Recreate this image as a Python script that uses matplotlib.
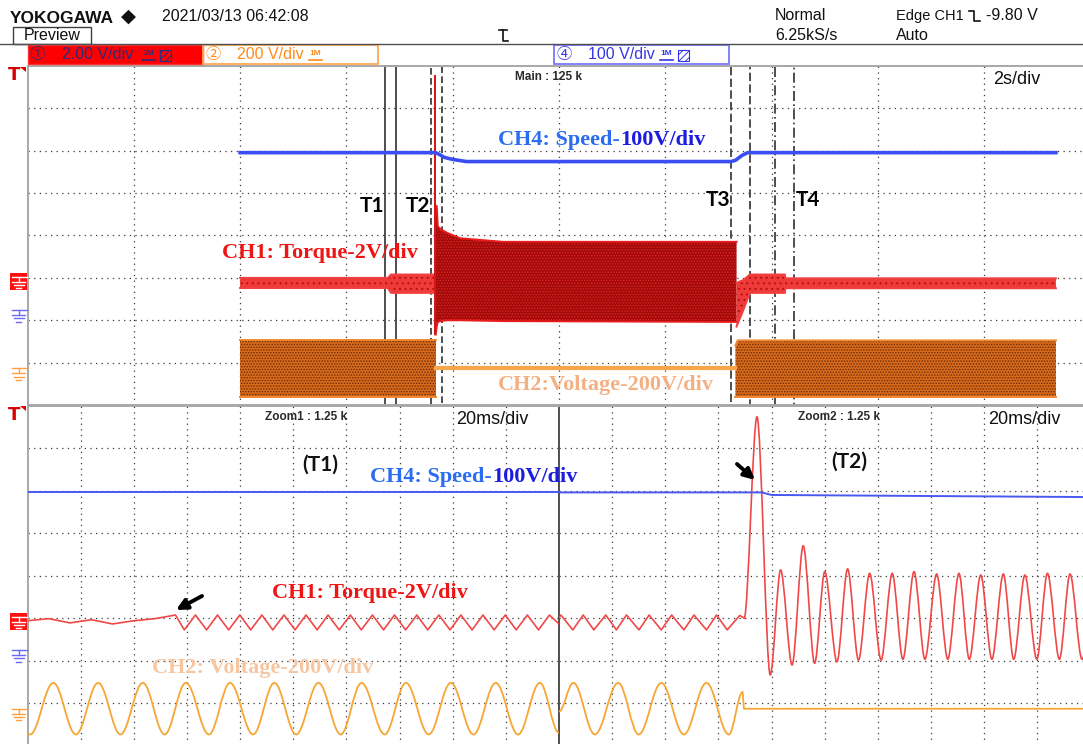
import numpy as np
import matplotlib
matplotlib.use("Agg")
import matplotlib.pyplot as plt
import matplotlib.transforms as mtransforms
from matplotlib.patches import Rectangle, PathPatch, Polygon
from matplotlib.path import Path

# ---------------- main window, 2 s/div (time in s) ----------------
speed_t = [4.0, 7.68, 7.76, 7.84, 8.0, 8.26, 13.24, 13.32, 13.45, 13.55, 19.35]
speed_v = [383, 383, 378, 372, 367, 362, 362, 365, 377, 383, 383]

torque_idle_t = [4.0, 6.78, 6.84, 7.66]
torque_idle_hi = [0.18, 0.18, 0.34, 0.34]
torque_idle_lo = [-0.30, -0.30, -0.53, -0.53]

torque_spike_t = 7.665
torque_spike_v = [-2.52, 9.76]

torque_run_t = [7.68, 7.70, 7.72, 7.79, 7.90, 8.14, 8.95, 13.34]
torque_run_hi = [3.57, 3.57, 2.6, 2.45, 2.3, 2.05, 1.88, 1.88]
torque_run_lo = [-2.5, -2.1, -1.9, -1.85, -1.82, -1.82, -1.86, -1.9]

torque_stop_t = [13.34, 13.47, 13.59, 14.25, 14.26, 19.35]
torque_stop_hi = [-0.06, 0.08, 0.34, 0.34, 0.16, 0.16]
torque_stop_lo = [-2.12, -1.33, -0.53, -0.53, -0.31, -0.31]

volt_on1_t = [4.0, 7.68]
volt_on2_t = [13.32, 13.36, 19.35]
volt_on2_hi = [130, 155, 155]
volt_on_hi, volt_on_lo = 155, -110
volt_off_t = [7.68, 13.32]
volt_off_v = [24, 24]

# zoom windows marked on the main trace: (start s, width s)
windows = {"T1": (6.73, 0.20), "T2": (7.59, 0.20), "T3": (13.24, 0.35), "T4": (14.07, 0.36)}

# ---------------- Zoom1, 20 ms/div (time in ms) ----------------
z1_speed_t = [0, 200]
z1_speed_v = [383, 383]

z1_torque_t = [0, 8, 16, 24, 32, 40, 48, 55.7, 59.0, 63.2, 67.4, 71.5, 75.7, 79.9,
               84.0, 88.2, 92.3, 96.5, 100.7, 104.8, 109.0, 113.1, 117.3, 121.5,
               125.6, 129.8, 134.0, 138.1, 142.3, 146.5, 150.6, 154.8, 159.0, 163.1,
               167.3, 171.4, 175.6, 179.8, 183.9, 188.1, 192.3, 196.4, 200]
z1_torque_v = [0.05, 0.15, -0.05, 0.1, -0.1, 0.05, 0.15, 0.32] + [-0.38, 0.32] * 17 + [-0.1]

z1_volt_t = [0, 1.0, 9.7, 18.2, 26.6, 35.0, 43.4, 51.6, 59.6, 68.3, 76.2, 84.9, 92.9,
             101.1, 109.5, 117.9, 125.7, 134.4, 142.4, 151.0, 159.3, 167.8, 176.2,
             184.6, 192.8, 200]
z1_volt_v = [-95, -98] + [145, -98] * 11 + [145, -90]

# ---------------- Zoom2, 20 ms/div (time in ms) ----------------
z2_speed_t = [0, 76.2, 80, 200]
z2_speed_v = [383, 383, 377, 372]

z2_ripple_t = [0, 0.7, 5.2, 9.1, 13.1, 17.6, 21.6, 25.4, 30.1, 33.9, 38.5, 42.4,
               47.0, 50.8, 55.5, 59.3, 63.3, 68.0, 69.7]
z2_ripple_v = [0.2, 0.32] + [-0.38, 0.32] * 7 + [-0.38, 0.3, 0.17]

z2_osc_t = [69.7, 74.5, 79.5, 83.4, 87.7, 91.9, 96.2, 100.0, 104.6, 108.6, 112.7,
            116.9, 121.2, 125.4, 129.4, 133.6, 137.7, 142.1, 146.3, 150.5, 154.4,
            158.7, 162.9, 167.2, 171.1, 175.3, 179.8, 183.8, 188.3, 192.3, 196.8, 200]
z2_osc_v = [0.17, 9.65, -2.50, 2.44, -2.03, 3.58, -1.95, 2.36, -1.88, 2.49, -1.80,
            2.28, -1.80, 2.28, -1.76, 2.36, -1.76, 2.25, -1.76, 2.28, -1.76, 2.20,
            -1.76, 2.25, -1.76, 2.20, -1.76, 2.28, -1.76, 2.25, -1.76, -0.3]

z2_volt_t = [0, 5.4, 13.5, 22.3, 30.0, 38.5, 47.0, 55.5, 63.9, 69.1]
z2_volt_v = [10, 145, -98, 145, -98, 145, -98, 145, -98, 101]
z2_volt_off_t = [69.1, 69.6, 200]
z2_volt_off_v = [101, 23, 23]

# channel settings: (ground position in div, volts per div)
CH1 = (-1.09, 2)
CH2 = (-3.25, 200)
CH4 = (-1.875, 100)

RED, DARKRED, ORANGE, BLUE = "#f03a3a", "#a00a0a", "#d86a1c", "#3b4ef2"
SANS = ["Liberation Sans", "DejaVu Sans", "Noto Sans CJK JP"]
SERIF = ["Liberation Serif", "DejaVu Serif"]
SANSB = ["Lato", "DejaVu Sans"]

W, H = 1083, 744
X0 = 27.5
TOP = (66, 405)
BOT = (405.5, 745.5)
SPLIT = 559

fig = plt.figure(figsize=(W / 100, H / 100), dpi=100)
plt.rcParams["hatch.linewidth"] = 0.7


def rect(x0, x1, y0, y1):
    return [x0 / W, 1 - y1 / H, (x1 - x0) / W, (y1 - y0) / H]


def panel(r, xmax, step):
    ax = fig.add_axes(r)
    ax.set_xlim(0, xmax)
    ax.set_ylim(-4, 4)
    ax.set_xticks(np.arange(step, xmax, step))
    ax.set_yticks(range(-3, 4))
    ax.tick_params(length=0, labelbottom=False, labelleft=False)
    ax.grid(True, color="#3a3a3a", lw=0.9, ls=(0, (1, 3.5)))
    for s in ax.spines.values():
        s.set_color("#a8a8a8")
        s.set_linewidth(1.4)
    return ax


def chan(base, ch):
    g, vdiv = ch
    a = base.twinx()
    a.set_ylim((-4 - g) * vdiv, (4 - g) * vdiv)
    a.set_axis_off()
    return a


def smooth(ax, t, v, color, lw, k=0.36):
    verts = [(t[0], v[0])]
    codes = [Path.MOVETO]
    for i in range(1, len(t)):
        dt = t[i] - t[i - 1]
        verts += [(t[i - 1] + k * dt, v[i - 1]), (t[i] - k * dt, v[i]), (t[i], v[i])]
        codes += [Path.CURVE4] * 3
    ax.add_patch(PathPatch(Path(verts, codes), fill=False, ec=color, lw=lw))


def band(ax, t, hi, lo, face, speck, rim, hatch="......"):
    # dense trace drawn as its envelope, speckled, with a brighter rim
    ax.fill_between(t, lo, hi, facecolor=face, edgecolor=speck, hatch=hatch, linewidth=0)
    ax.plot(t, hi, color=rim, lw=1.4)
    ax.plot(t, lo, color=rim, lw=1.4)


# ---- main window ----
top = panel(rect(X0, X0 + 1063, *TOP), 20, 2)
top.spines["right"].set_visible(False)
a2 = chan(top, CH2)
band(a2, volt_on1_t, [volt_on_hi] * 2, [volt_on_lo] * 2, ORANGE, "#6a2c05", "#f08830")
band(a2, volt_on2_t, volt_on2_hi, [volt_on_lo] * 3, ORANGE, "#6a2c05", "#f08830")
a2.plot(volt_off_t, volt_off_v, color="#f7a64a", lw=3)
a1 = chan(top, CH1)
band(a1, torque_idle_t, torque_idle_hi, torque_idle_lo, RED, "#b01010", "#f04040", hatch="...")
band(a1, torque_run_t, torque_run_hi, torque_run_lo, DARKRED, "#e02424", "#e81c1c")
band(a1, torque_stop_t, torque_stop_hi, torque_stop_lo, RED, "#b01010", "#f04040", hatch="...")
a1.vlines(torque_spike_t, *torque_spike_v, color="#d81010", lw=1.4)
a4 = chan(top, CH4)
a4.plot(speed_t, speed_v, color=BLUE, lw=2.6)

styles = {"T1": "-", "T2": (0, (4, 2)), "T3": (0, (5, 2)), "T4": (0, (6, 2, 1, 2))}
trans = mtransforms.blended_transform_factory(top.transData, top.transAxes)
for name, (t0, w) in windows.items():
    top.add_patch(Rectangle((t0, -0.02), w, 1.02, transform=trans, fill=False,
                            ec="#303030", lw=1.2, ls=styles[name], clip_on=False))
    if name == "T4":
        top.text(t0 + w + 0.03, 0.84, name, ha="left", va="center", fontsize=15,
                 fontweight="bold", family=SANSB)
    else:
        y = 0.84 if name == "T3" else 0.70
        top.text(t0 - 0.02, y, name, ha="right", va="center", fontsize=15,
                 fontweight="bold", family=SANSB)

# ---- zoom windows ----
z1 = panel(rect(X0, SPLIT, *BOT), 200, 20)
z1.spines["right"].set_color("#505050")
z2 = panel(rect(SPLIT, SPLIT + SPLIT - X0, *BOT), 200, 20)
z2.spines["left"].set_color("#505050")
z2.spines["right"].set_visible(False)

b2 = chan(z1, CH2)
smooth(b2, z1_volt_t, z1_volt_v, "#f6a733", 1.3)
b1 = chan(z1, CH1)
b1.plot(z1_torque_t, z1_torque_v, color="#f04848", lw=1.2)
b4 = chan(z1, CH4)
b4.plot(z1_speed_t, z1_speed_v, color="#4a58f0", lw=1.4)

c2 = chan(z2, CH2)
smooth(c2, z2_volt_t, z2_volt_v, "#f6a733", 1.3)
c2.plot(z2_volt_off_t, z2_volt_off_v, color="#f6a733", lw=1.3)
c1 = chan(z2, CH1)
c1.plot(z2_ripple_t, z2_ripple_v, color="#f04848", lw=1.2)
smooth(c1, z2_osc_t, z2_osc_v, "#f04848", 1.2, k=0.32)
c4 = chan(z2, CH4)
c4.plot(z2_speed_t, z2_speed_v, color="#4a58f0", lw=1.4)

# ---- screen furniture, pixel coordinates ----
ov = fig.add_axes([0, 0, 1, 1])
ov.set_xlim(0, W)
ov.set_ylim(H, 0)
ov.set_axis_off()


def txt(x, y, s, size, color="#111111", family=SANS, **kw):
    kw.setdefault("ha", "left")
    kw.setdefault("va", "center")
    return ov.text(x, y, s, fontsize=size, color=color, family=family, **kw)


def probe_icon(x, y, color, hatched):
    txt(x, y - 1, "1M", 6, color, weight="bold")
    ov.plot([x, x + 13], [y + 5, y + 5], color=color, lw=1.2)
    if hatched:
        ov.add_patch(Rectangle((x + 18, y - 5), 11, 11, fill=False, ec=color,
                               hatch="/////", lw=0.8))


txt(10, 18.5, "YOKOGAWA", 12.5, weight="bold")
txt(128, 16, "\u25c6", 14, family=["DejaVu Sans"], ha="center")
txt(162, 16.5, "2021/03/13 06:42:08", 11.5)
ov.add_patch(Rectangle((13, 27), 78, 16.5, fill=False, ec="#404040", lw=1))
txt(24, 35.5, "Preview", 11.5)
ov.plot([0, W], [43.5, 43.5], color="#505050", lw=1)
ov.plot([499, 507], [30, 30], color="#111111", lw=1.2)
ov.plot([503, 503, 508], [30, 41, 41], color="#111111", lw=1.2)
txt(775, 16, "Normal", 11.5)
txt(775, 35.5, "6.25kS/s", 11.5)
txt(896, 16, "Edge CH1", 10.5)
ov.plot([969, 974, 974, 980], [11, 11, 21, 21], color="#111111", lw=1.2)
txt(986, 16, "-9.80 V", 11.5)
txt(896, 35.5, "Auto", 11.5)

ov.add_patch(Rectangle((27.5, 45), 175.5, 19, fc="#ff0000", ec="#ff3030", lw=1))
txt(29, 54.5, "\u2460", 11, "#2e2a7e", family=["Noto Sans CJK JP"])
txt(62, 54.5, "2.00 V/div", 11.5, "#2e2a7e")
probe_icon(142, 54.5, "#2e2a7e", True)
ov.add_patch(Rectangle((203, 45), 175, 19, fill=False, ec="#ffaa55", lw=1.3))
txt(205, 54.5, "\u2461", 11, "#ff8c1a", family=["Noto Sans CJK JP"])
txt(237, 54.5, "200 V/div", 11.5, "#ff8c1a")
probe_icon(309, 54.5, "#ff8c1a", False)
ov.add_patch(Rectangle((554, 45), 175, 19, fill=False, ec="#7878ff", lw=1.3))
txt(556, 54.5, "\u2463", 11, "#3535e8", family=["Noto Sans CJK JP"])
txt(588, 54.5, "100 V/div", 11.5, "#3535e8")
probe_icon(660, 54.5, "#3535e8", True)

txt(515, 77, "Main : 125 k", 8.5, "#2a2a2a", weight="bold")
txt(993, 80, "2s/div", 13)
txt(265, 417, "Zoom1 : 1.25 k", 8.5, "#2a2a2a", weight="bold")
txt(456, 420, "20ms/div", 13)
txt(798, 417, "Zoom2 : 1.25 k", 8.5, "#2a2a2a", weight="bold")
txt(988, 420, "20ms/div", 13)

txt(320.5, 465, "(T1)", 15, family=SANSB, weight="bold", ha="center")
txt(849, 462, "(T2)", 15, family=SANSB, weight="bold", ha="center")

renderer = fig.canvas.get_renderer()


def label(x, y, parts):
    for s, c in parts:
        t = txt(x, y, s, 16, c, family=SERIF, weight="bold")
        x += t.get_window_extent(renderer=renderer).width


label(498, 140, [("CH4: Speed-", "#2a6cf2"), ("100V/div", "#1c1ce0")])
label(222, 253, [("CH1: Torque-2V/div", "#ee1515")])
label(498, 385, [("CH2:Voltage-200V/div", "#f4b083")])
label(370, 477, [("CH4: Speed-", "#2a6cf2"), ("100V/div", "#1c1ce0")])
label(272, 593, [("CH1: Torque-2V/div", "#ee1515")])
label(151.5, 668, [("CH2: Voltage-200V/div", "#f7c6a0")])

arrow = dict(arrowstyle="-|>", color="black", lw=2.8, mutation_scale=16, shrinkA=0, shrinkB=0)
ov.annotate("", xy=(176, 610), xytext=(202, 596), arrowprops=arrow)
ov.annotate("", xy=(755, 480), xytext=(737, 464), arrowprops=arrow)


def ground_mark(yc, color, filled=False):
    c = color
    if filled:
        ov.add_patch(Rectangle((10, yc - 9), 17, 17.5, fc=color, ec="none"))
        c = "white"
    ov.plot([12, 26.5], [yc - 5, yc - 5], color=c, lw=1)
    ov.plot([18.5, 18.5], [yc - 5, yc], color=c, lw=1)
    for w, dy in [(6.5, 0), (5, 3.3), (2.5, 6.6)]:
        ov.plot([18.5 - w, 18.5 + w], [yc + dy, yc + dy], color=c, lw=1)


for yc0, pitch in [(235.5, 42.4), (575.5, 42.5)]:
    ground_mark(yc0 - CH1[0] * pitch, "#ff1010", filled=True)
    ground_mark(yc0 - CH4[0] * pitch, "#6a6af5")
    ground_mark(yc0 - CH2[0] * pitch, "#ffa040")

for ty in (66.5, 406):
    txt(14, ty + 9, "T", 13, "#d80000", family=["DejaVu Sans"], weight="bold", ha="center")
    ov.add_patch(Polygon([(20, ty), (26, ty), (26, ty + 5)], fc="#e00000", ec="none"))

fig.savefig("out.png", dpi=100)
